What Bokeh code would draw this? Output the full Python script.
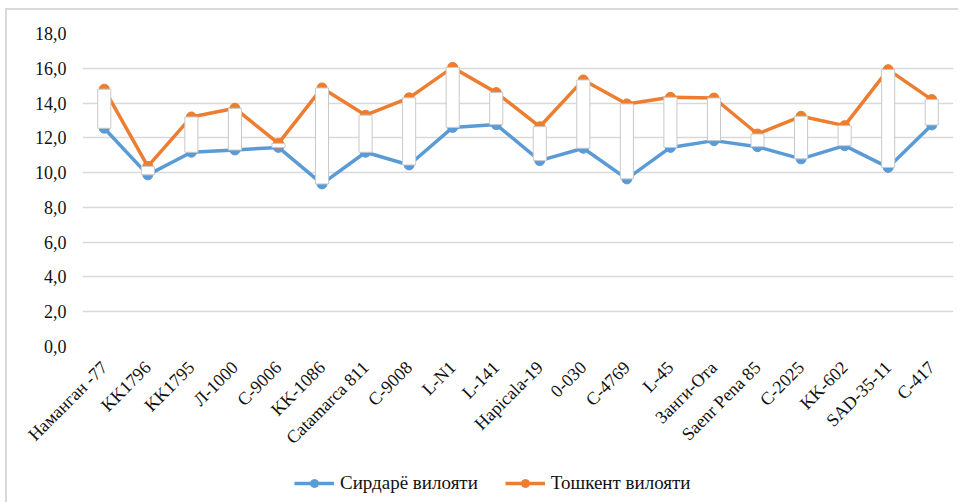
import math
from bokeh.plotting import figure
from bokeh.layouts import column, row
from bokeh.models import (FactorRange, Range1d, FixedTicker, CustomJSTickFormatter,
                          Legend, LegendItem, ColumnDataSource, Spacer)
from bokeh.embed import file_html
from bokeh.resources import INLINE

categories = ["Наманган -77", "KK1796", "KK1795", "Л-1000", "C-9006", "KK-1086",
              "Catamarca 811", "C-9008", "L-N1", "L-141", "Hapicala-19", "0-030",
              "C-4769", "L-45", "Занги-Ота", "Saenr Pena 85", "C-2025", "KK-602",
              "SAD-35-11", "C-417"]
syrdarya = [12.55, 9.87, 11.17, 11.3, 11.45, 9.35, 11.17, 10.44, 12.6, 12.76,
            10.69, 11.4, 9.64, 11.45, 11.84, 11.49, 10.79, 11.55, 10.3, 12.74]
tashkent = [14.8, 10.36, 13.2, 13.7, 11.68, 14.87, 13.3, 14.3, 16.05, 14.6,
            12.64, 15.33, 13.95, 14.33, 14.29, 12.22, 13.24, 12.7, 15.92, 14.2]
y_ticks = [0, 2, 4, 6, 8, 10, 12, 14, 16, 18]
series_names = ["Сирдарё вилояти", "Тошкент вилояти"]

BLUE = "#5B9BD5"
ORANGE = "#ED7D31"
FONT = "Liberation Serif"
FS = "18px"

src = ColumnDataSource(dict(cat=categories, s=syrdarya, t=tashkent))

p = figure(width=953, height=448,
           x_range=FactorRange(*categories, range_padding=0),
           y_range=Range1d(0, 18),
           output_backend="svg", toolbar_location=None,
           min_border_left=75, min_border_right=7,
           min_border_top=23, min_border_bottom=112)
p.styles = {"border-left": "2px solid #d9d9d9", "border-top": "2px solid #d9d9d9"}
p.outline_line_color = None
p.background_fill_color = "white"

l1 = p.line("cat", "s", source=src, color=BLUE, line_width=3.5)
l2 = p.line("cat", "t", source=src, color=ORANGE, line_width=3.5)
c1 = p.scatter("cat", "s", source=src, size=10, color=BLUE)
c2 = p.scatter("cat", "t", source=src, size=10, color=ORANGE)
p.vbar(x="cat", top="t", bottom="s", width=0.3, source=src,
       fill_color="white", line_color="#c8c8c8", line_width=1)

p.xgrid.visible = False
p.ygrid.grid_line_color = "#d9d9d9"
p.ygrid.grid_line_width = 1.3

p.yaxis.ticker = FixedTicker(ticks=y_ticks)
p.yaxis.formatter = CustomJSTickFormatter(code="return tick.toFixed(1).replace('.', ',');")
p.yaxis.axis_line_color = None
p.yaxis.major_tick_line_color = None
p.yaxis.minor_tick_line_color = None
p.yaxis.major_label_standoff = 10
p.yaxis.major_label_text_font = FONT
p.yaxis.major_label_text_font_size = FS
p.yaxis.major_label_text_color = "#111111"

p.xaxis.axis_line_color = None
p.xaxis.major_tick_line_color = None
p.xaxis.minor_tick_line_color = None
p.xaxis.major_label_orientation = math.pi / 4
p.xaxis.major_label_standoff = 12
p.xaxis.major_label_text_font = FONT
p.xaxis.major_label_text_font_size = FS
p.xaxis.major_label_text_color = "#111111"

# legend strip below the chart
p2 = figure(width=953, height=46, x_range=Range1d(0, 953), y_range=Range1d(0, 46),
            output_backend="svg", toolbar_location=None,
            min_border=0, min_border_left=0, min_border_right=0,
            min_border_top=0, min_border_bottom=0)
p2.styles = {"border-left": "2px solid #d9d9d9"}
p2.axis.visible = False
p2.grid.visible = False
p2.outline_line_color = None
dummy = ColumnDataSource(dict(x=[-100], y=[-100]))
d1 = p2.line("x", "y", source=dummy, color=BLUE, line_width=3.5)
d2 = p2.line("x", "y", source=dummy, color=ORANGE, line_width=3.5)
e1 = p2.scatter("x", "y", source=dummy, size=10, color=BLUE)
e2 = p2.scatter("x", "y", source=dummy, size=10, color=ORANGE)

legend = Legend(items=[LegendItem(label=series_names[0], renderers=[d1, e1]),
                       LegendItem(label=series_names[1], renderers=[d2, e2])],
                orientation="horizontal", location=(212, 8),
                padding=0, margin=0, spacing=27, label_standoff=6,
                glyph_width=40, glyph_height=20,
                border_line_color=None, background_fill_alpha=0,
                label_text_font=FONT, label_text_font_size="19px",
                label_text_color="#111111")
p2.add_layout(legend)
legend.label_text_font = FONT

layout = column(Spacer(height=8), row(Spacer(width=5), column(p, p2, spacing=0), spacing=0), spacing=0)
open("out.html", "w").write(file_html(layout, INLINE))
